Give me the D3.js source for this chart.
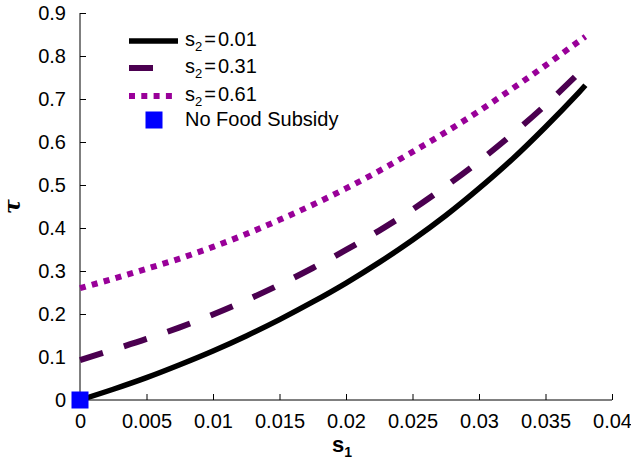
<!DOCTYPE html>
<html>
<head>
<meta charset="utf-8">
<script src="https://cdn.jsdelivr.net/npm/d3@7"></script>
<style>
  html, body { margin: 0; padding: 0; background: #fff; }
  svg { display: block; }
</style>
</head>
<body>
<div id="chart"></div>
<script>
// ── DATA ──────────────────────────────────────────────────────────────────
const s1Values = [0, 0.0025, 0.005, 0.0075, 0.01, 0.0125, 0.015, 0.0175, 0.02,
                  0.0225, 0.025, 0.0275, 0.03, 0.0325, 0.035, 0.0375, 0.038];
const tauS2_001 = [0, 0.025, 0.052, 0.082, 0.114, 0.149, 0.187, 0.228, 0.272,
                   0.32, 0.372, 0.429, 0.492, 0.56, 0.635, 0.715, 0.732];
const tauS2_031 = [0.093, 0.117, 0.142, 0.169, 0.199, 0.232, 0.268, 0.307, 0.349,
                   0.394, 0.443, 0.497, 0.555, 0.618, 0.686, 0.76, 0.775];
const tauS2_061 = [0.26, 0.282, 0.305, 0.329, 0.356, 0.386, 0.419, 0.454, 0.492,
                   0.533, 0.577, 0.623, 0.672, 0.724, 0.778, 0.834, 0.845];
const noSubsidy = [[0, 0]];
const seriesLabels = ["0.01", "0.31", "0.61"];
const xTicks = [0, 0.005, 0.01, 0.015, 0.02, 0.025, 0.03, 0.035, 0.04];
const yTicks = [0, 0.1, 0.2, 0.3, 0.4, 0.5, 0.6, 0.7, 0.8, 0.9];

// ── LAYOUT ────────────────────────────────────────────────────────────────
const totalW = 631, totalH = 461;
const margin = { top: 13, left: 80, right: 19, bottom: 61 };
const W = totalW - margin.left - margin.right;
const H = totalH - margin.top - margin.bottom;
const FONT = "'Liberation Sans', Arial, Helvetica, sans-serif";
const FS = "20px";

const x = d3.scaleLinear().domain([0, 0.04]).range([0, W]);
const y = d3.scaleLinear().domain([0, 0.9]).range([H, 0]);

const svg = d3.select("#chart").append("svg")
  .attr("width", totalW).attr("height", totalH);

const g = svg.append("g")
  .attr("transform", `translate(${margin.left},${margin.top})`);

// ── AXES (ticks point inward) ─────────────────────────────────────────────
const fmt = d => d === 0 ? "0" : String(+d.toFixed(3));

g.append("g")
  .attr("transform", `translate(0,${H})`)
  .call(d3.axisBottom(x).tickValues(xTicks).tickFormat(fmt).tickSize(-6).tickPadding(14))
  .call(ax => ax.select(".domain").attr("d", `M0,0H${W}`).attr("stroke", "#000"))
  .call(ax => ax.selectAll(".tick line").attr("stroke", "#000"))
  .call(ax => ax.selectAll(".tick text")
    .attr("fill", "#000").attr("font-family", FONT).attr("font-size", FS)
    .attr("dy", "0.71em").attr("y", 14));

g.append("g")
  .call(d3.axisLeft(y).tickValues(yTicks).tickFormat(fmt).tickSize(-6).tickPadding(14))
  .call(ax => ax.select(".domain").attr("d", `M0,${H}V0`).attr("stroke", "#000"))
  .call(ax => ax.selectAll(".tick line").attr("stroke", "#000"))
  .call(ax => ax.selectAll(".tick text")
    .attr("fill", "#000").attr("font-family", FONT).attr("font-size", FS));

// axis titles
const xt = svg.append("text")
  .attr("x", margin.left + W / 2 - 4)
  .attr("y", 452)
  .attr("text-anchor", "middle")
  .attr("font-family", FONT).attr("font-size", "22px").attr("font-weight", "bold");
xt.append("tspan").text("s");
xt.append("tspan").attr("font-size", "14px").attr("dy", 5).text("1");

svg.append("text")
  .attr("transform", `translate(20,${margin.top + H / 2}) rotate(-90)`)
  .attr("text-anchor", "middle")
  .attr("font-family", "'DejaVu Serif', serif").attr("font-size", "22px")
  .attr("font-weight", "bold").attr("font-style", "italic")
  .text("τ");

// ── LINES ─────────────────────────────────────────────────────────────────
const styles = [
  { values: tauS2_001, color: "#000000", width: 5.5, dash: null },
  { values: tauS2_031, color: "#4b0050", width: 6, dash: "24,22" },
  { values: tauS2_061, color: "#990099", width: 6, dash: "6,6.3" },
];

const line = d3.line()
  .x((d, i) => x(s1Values[i]))
  .y(d => y(d))
  .curve(d3.curveCatmullRom.alpha(0.5));

styles.forEach(s => {
  g.append("path")
    .datum(s.values)
    .attr("fill", "none")
    .attr("stroke", s.color)
    .attr("stroke-width", s.width)
    .attr("stroke-dasharray", s.dash)
    .attr("d", line);
});

// No food subsidy marker
g.selectAll("rect.nofs")
  .data(noSubsidy)
  .join("rect")
  .attr("class", "nofs")
  .attr("x", d => x(d[0]) - 8.5)
  .attr("y", d => y(d[1]) - 8.5)
  .attr("width", 17).attr("height", 17)
  .attr("fill", "#0000ff");

// ── LEGEND ────────────────────────────────────────────────────────────────
const legend = svg.append("g");
const rowY = [41, 68, 96, 120];
const lineLen = [49, 24, 43];

styles.forEach((s, i) => {
  legend.append("line")
    .attr("x1", 129).attr("x2", 129 + lineLen[i])
    .attr("y1", rowY[i]).attr("y2", rowY[i])
    .attr("stroke", s.color)
    .attr("stroke-width", s.width)
    .attr("stroke-dasharray", s.dash);

  const t = legend.append("text")
    .attr("x", 185).attr("y", rowY[i] + 4.5)
    .attr("font-family", FONT).attr("font-size", FS);
  t.append("tspan").text("s");
  t.append("tspan").attr("font-size", "13px").attr("dy", 5).text("2");
  t.append("tspan").attr("dy", -5).attr("dx", 2).text("=");
  t.append("tspan").attr("dx", 2).text(seriesLabels[i]);
});

legend.append("rect")
  .attr("x", 145.5).attr("y", rowY[3] - 8.5)
  .attr("width", 17).attr("height", 17)
  .attr("fill", "#0000ff");
legend.append("text")
  .attr("x", 185).attr("y", rowY[3] + 6)
  .attr("font-family", FONT).attr("font-size", FS)
  .text("No Food Subsidy");
</script>
</body>
</html>
